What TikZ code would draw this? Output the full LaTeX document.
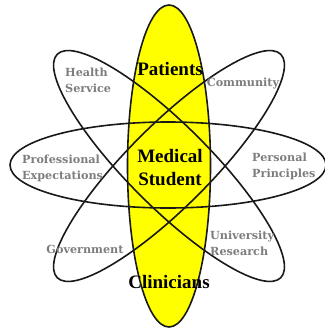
\documentclass[tikz,border=0pt]{standalone}
\usepackage{fontspec}
\setmainfont{Liberation Serif}
\newfontfamily\labelfont{DejaVu Serif}
\definecolor{atomyellow}{RGB}{255,255,0}
\definecolor{labelgray}{RGB}{125,125,125}
\tikzset{
  orbit/.style={draw=black!90, line width=1.6pt},
  core/.style={font=\fontsize{19}{23}\selectfont\bfseries, text=black, inner sep=0pt, align=center},
  side/.style={font=\labelfont\bfseries\fontsize{11.2}{16}\selectfont, text=labelgray, inner sep=0pt, align=left, anchor=west}
}
\begin{document}
\begin{tikzpicture}[x=1pt,y=-1pt]
\useasboundingbox (0,0) rectangle (324,329);
\coordinate (c) at (169,166);
\fill[atomyellow] (c) ellipse [x radius=41.5pt, y radius=161pt];
\draw[orbit] (168,165) ellipse [x radius=158pt, y radius=43pt];
\draw[orbit, rotate around={45:(c)}] (c) ellipse [x radius=158pt, y radius=41pt];
\draw[orbit, rotate around={-45:(c)}] (c) ellipse [x radius=158pt, y radius=41pt];
\draw[orbit] (c) ellipse [x radius=41.5pt, y radius=161pt];
\node[core] (pat) at (170,69) {Patients};
\node[core] (med) at (170,168) {Medical\\Student};
\node[core] (cli) at (169,282) {Clinicians};
\node[side] (hs) at (65,80) {Health\\Service};
\node[side, align=center, anchor=center] (com) at (243,83) {Community};
\node[side] (pe) at (22,168.5) {Professional\\Expectations};
\node[side] (pp) at (252,166.5) {Personal\\Principles};
\node[side, align=center, anchor=center] (gov) at (85,249) {Government};
\node[side] (ur) at (210,243.5) {University\\Research};
\end{tikzpicture}
\end{document}
